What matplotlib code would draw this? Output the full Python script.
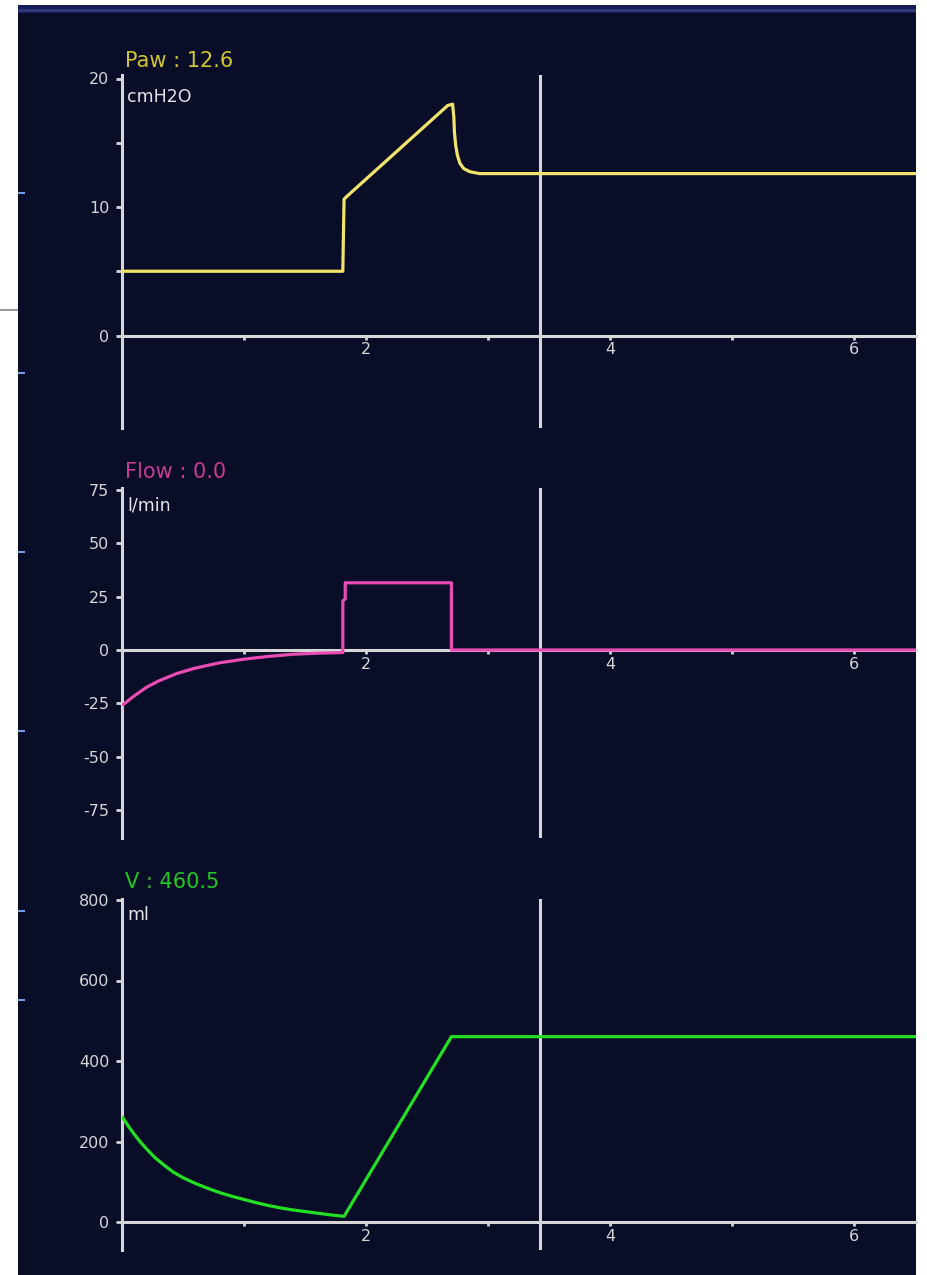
import matplotlib.pyplot as plt
from matplotlib.patches import Rectangle
from matplotlib.ticker import FixedLocator

W, H = 928, 1275

# airway pressure, cmH2O
paw_t = [0.0, 1.81, 1.82, 1.84, 2.67, 2.71, 2.72, 2.725, 2.735, 2.75, 2.77,
         2.80, 2.85, 2.93, 6.6]
paw_v = [5.0, 5.0, 10.6, 10.8, 17.9, 18.0, 17.0, 15.8, 14.8, 14.0, 13.4,
         13.0, 12.75, 12.6, 12.6]

# flow, l/min
flow_t = [0.0, 0.1, 0.2, 0.3, 0.45, 0.6, 0.8, 1.0, 1.2, 1.4, 1.6, 1.81,
          1.81, 1.83, 1.83, 2.70, 2.70, 6.6]
flow_v = [-26, -21.5, -17.5, -14.5, -11, -8.5, -6, -4.3, -3, -2, -1.5, -1.2,
          23, 24, 31.5, 31.5, 0, 0]

# volume, ml
vol_t = [0.0, 0.05, 0.1, 0.15, 0.2, 0.27, 0.35, 0.42, 0.5, 0.6, 0.7, 0.8, 0.9,
         1.0, 1.1, 1.2, 1.3, 1.4, 1.5, 1.6, 1.7, 1.82, 2.70, 6.6]
vol_v = [262, 239, 218, 199, 182, 160, 140, 124, 110, 96, 84, 73, 64,
         56, 48, 41, 35, 30, 26, 22, 18, 14, 460.5, 460.5]

cursor_t = 3.43
x_major = [2, 4, 6]
x_minor = [1, 3, 5]

BG = '#090d28'
AXC = '#d6d6d6'

fig = plt.figure(figsize=(W / 100, H / 100), dpi=100, facecolor='white')


def px_rect(x0, y0, x1, y1, color, z=-10):
    fig.patches.append(Rectangle((x0 / W, 1 - y1 / H), (x1 - x0) / W, (y1 - y0) / H,
                                 transform=fig.transFigure, facecolor=color,
                                 edgecolor='none', zorder=z))


# screen panel + top border strip
px_rect(18, 5, 916, H, BG, -10)
px_rect(18, 5, 916, 13, '#121a58', -9)
px_rect(18, 9, 916, 11.5, '#2e3876', -8)
# bits of the surrounding window
px_rect(0, 309, 18, 310.5, '#9a9a9a', -9)
for yy in [193, 373, 552, 731, 911, 1000]:
    px_rect(18, yy - 1, 25, yy + 1, '#6f9fe8', -8)


def panel(top, bot, zero_px, px_per_unit, yticks, yminor, t, v, color,
          title, title_color, title_y, unit, unit_y):
    ax = fig.add_axes([122 / W, 1 - bot / H, (916 - 122) / W, (bot - top) / H])
    ax.set_facecolor('none')
    ax.set_xlim(0, (916 - 122) / 122)
    ax.set_ylim(-(bot - zero_px) / px_per_unit, (zero_px - top) / px_per_unit)
    for s in ['top', 'right']:
        ax.spines[s].set_visible(False)
    ax.spines['left'].set_color(AXC)
    ax.spines['left'].set_linewidth(2.2)
    ax.spines['bottom'].set_position(('data', 0))
    ax.spines['bottom'].set_color(AXC)
    ax.spines['bottom'].set_linewidth(2.2)

    ax.xaxis.set_major_locator(FixedLocator(x_major))
    ax.xaxis.set_minor_locator(FixedLocator(x_minor))
    ax.set_xticklabels([str(x) for x in x_major])
    ax.yaxis.set_major_locator(FixedLocator(yticks))
    ax.yaxis.set_minor_locator(FixedLocator(yminor))
    ax.set_yticklabels([str(y) for y in yticks])
    ax.tick_params(axis='both', which='both', direction='out', colors=AXC,
                   width=2, labelsize=11.5)
    ax.tick_params(axis='x', which='both', length=3, pad=2)
    ax.tick_params(axis='y', which='both', length=4, pad=5)

    ax.plot(t, v, color=color, lw=2.3, solid_joinstyle='round',
            solid_capstyle='butt', zorder=3)
    ax.axvline(cursor_t, color=AXC, lw=2.2, zorder=2)

    fig.text(125 / W, 1 - title_y / H, title, color=title_color, fontsize=15,
             va='center', ha='left')
    fig.text(127 / W, 1 - unit_y / H, unit, color='#e4e4e4', fontsize=12.5,
             va='center', ha='left')
    return ax


panel(75, 428, 335.5, 12.85, [0, 10, 20], [5, 15], paw_t, paw_v, '#f2e46a',
      'Paw : 12.6', '#d2c430', 61, 'cmH2O', 97)
panel(488, 838, 650, 160 / 75, [-75, -50, -25, 0, 25, 50, 75], [], flow_t, flow_v,
      '#ea4cb4', 'Flow : 0.0', '#c93a92', 472, 'l/min', 506)
panel(899, 1250, 1222, 322 / 800, [0, 200, 400, 600, 800], [], vol_t, vol_v,
      '#22e022', 'V : 460.5', '#22c822', 882, 'ml', 915)

fig.savefig('out.png', dpi=100, facecolor='white')
